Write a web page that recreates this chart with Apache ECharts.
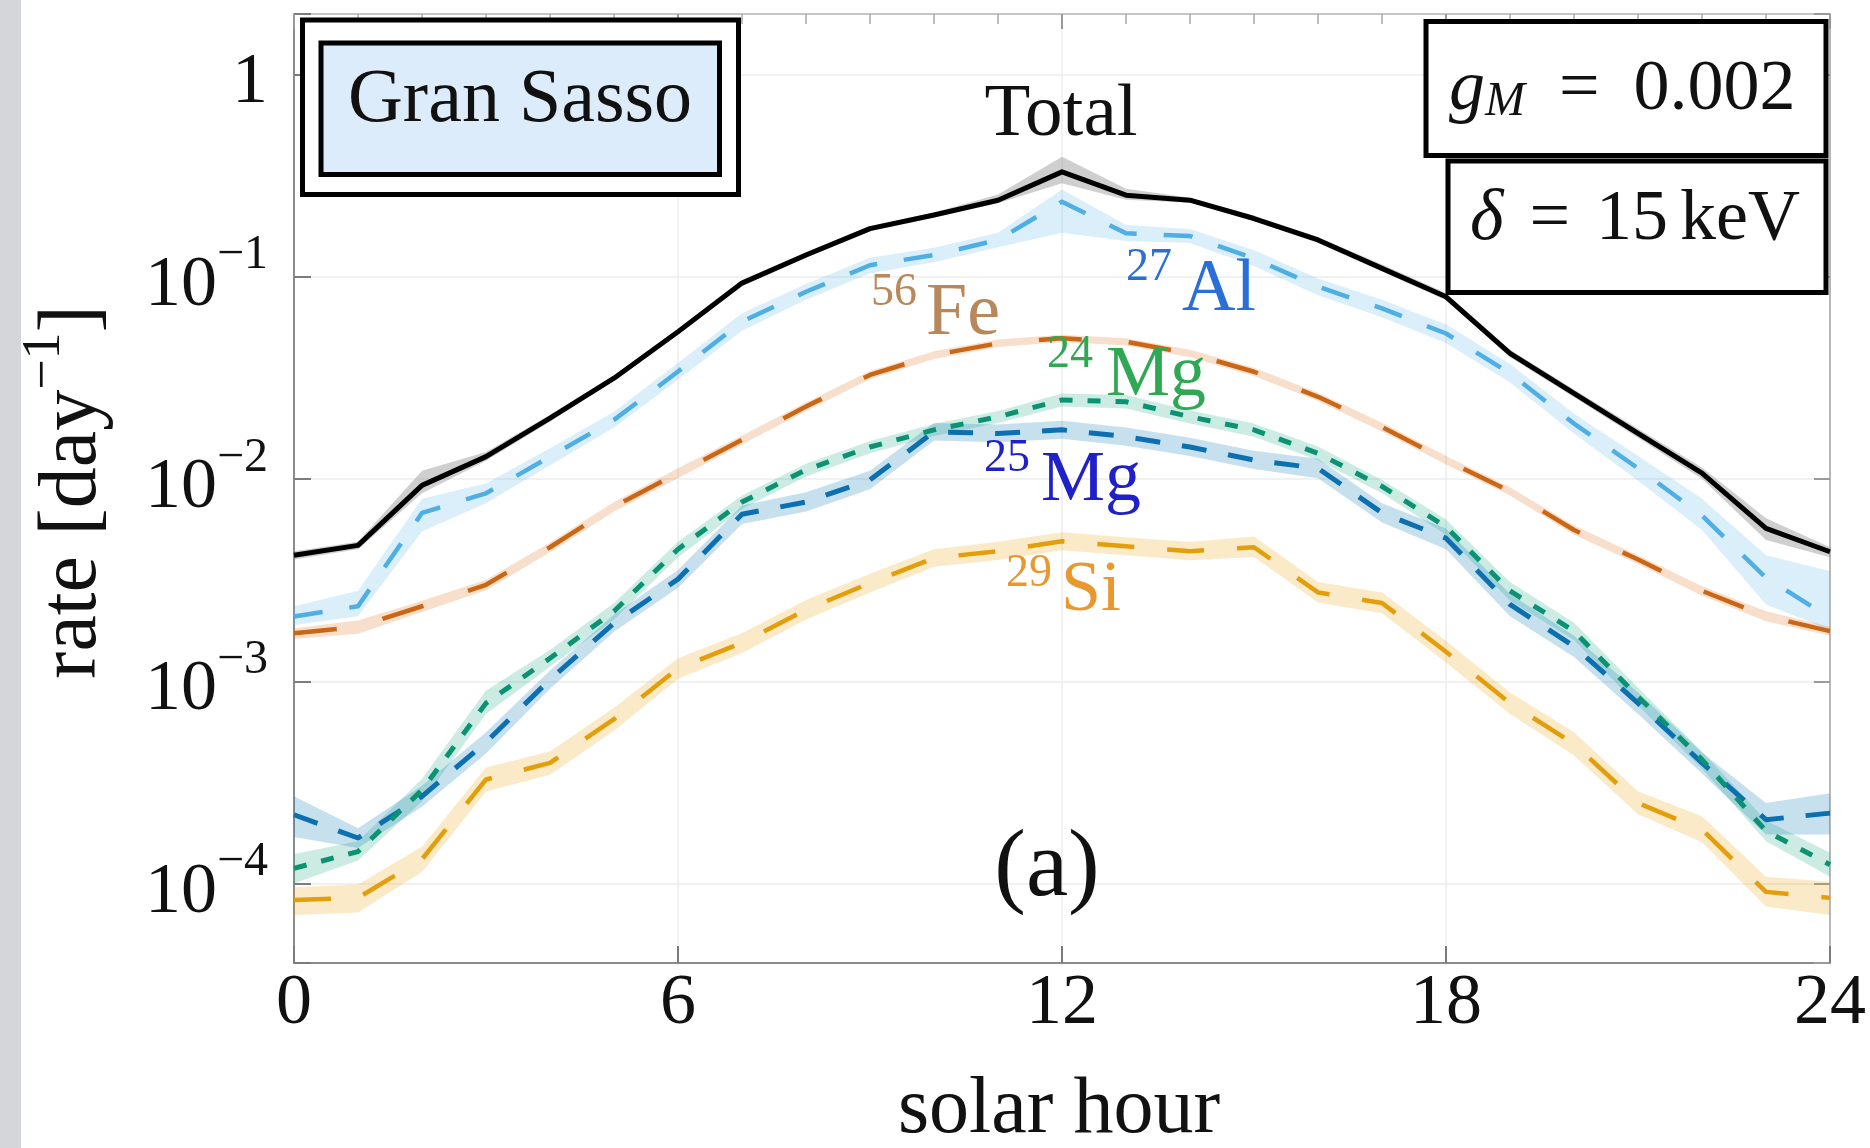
<!DOCTYPE html>
<html>
<head>
<meta charset="utf-8">
<script src="https://cdn.jsdelivr.net/npm/echarts@6/dist/echarts.min.js"></script>
<style>
  html, body { margin: 0; padding: 0; background: #ffffff; }
  #chart { width: 1870px; height: 1148px; }
</style>
</head>
<body>
<div id="chart"></div>
<script>
// Solar-hour axis
const hours = [0,1,2,3,4,5,6,7,8,9,10,11,12,13,14,15,16,17,18,19,20,21,22,23,24];
const hourTicks = [0, 6, 12, 18, 24];

// Rates [day^-1]: central curve and band edges for each target
const totalRate = [4.2e-3,4.7e-3,9.3e-3,1.29e-2,2.0e-2,3.15e-2,5.35e-2,9.3e-2,0.128,0.173,0.202,0.239,0.330,0.253,0.239,0.194,0.152,0.110,0.0796,0.0418,0.0265,0.0168,0.0107,0.0057,0.00437];
const totalLo   = [4.0e-3,4.5e-3,8.5e-3,1.23e-2,1.92e-2,3.05e-2,5.2e-2,9.0e-2,0.124,0.168,0.196,0.231,0.290,0.240,0.232,0.188,0.147,0.106,0.0765,0.040,0.0254,0.0160,0.0100,0.0050,0.0041];
const totalHi   = [4.4e-3,4.9e-3,1.1e-2,1.36e-2,2.08e-2,3.25e-2,5.5e-2,9.6e-2,0.132,0.178,0.208,0.255,0.392,0.272,0.246,0.200,0.157,0.115,0.083,0.0436,0.0277,0.0177,0.0114,0.0064,0.0046];

const al27Rate = [2.09e-3,2.35e-3,6.8e-3,8.5e-3,1.29e-2,1.96e-2,3.4e-2,0.060,0.0843,0.114,0.128,0.152,0.235,0.164,0.159,0.123,0.0893,0.0697,0.0524,0.0333,0.0188,0.0113,0.0066,0.00325,0.00206];
const al27Lo   = [1.9e-3,2.1e-3,5.5e-3,7.6e-3,1.17e-2,1.8e-2,3.1e-2,0.054,0.077,0.104,0.118,0.140,0.165,0.150,0.147,0.113,0.081,0.063,0.047,0.030,0.0168,0.0098,0.0056,0.0024,0.0018];
const al27Hi   = [2.35e-3,2.8e-3,8.0e-3,9.5e-3,1.42e-2,2.15e-2,3.75e-2,0.066,0.092,0.124,0.139,0.165,0.270,0.180,0.172,0.135,0.098,0.077,0.058,0.037,0.021,0.0130,0.0080,0.0042,0.0035];

const fe56Rate = [1.73e-3,1.86e-3,2.35e-3,3.0e-3,4.6e-3,7.3e-3,1.07e-2,0.0156,0.0228,0.0327,0.041,0.0469,0.0496,0.0477,0.0418,0.0339,0.0255,0.0181,0.0124,0.0087,0.0056,0.0040,0.0028,0.0021,0.00177];
const fe56Lo   = [1.62e-3,1.72e-3,2.2e-3,2.82e-3,4.35e-3,6.9e-3,1.01e-2,0.0148,0.0217,0.0312,0.0392,0.0449,0.0476,0.0457,0.0400,0.0323,0.0243,0.0172,0.0118,0.0083,0.0053,0.0038,0.00265,0.00198,0.00168];
const fe56Hi   = [1.83e-3,2.0e-3,2.5e-3,3.18e-3,4.85e-3,7.7e-3,1.13e-2,0.0164,0.0239,0.0342,0.0428,0.0489,0.0516,0.0497,0.0436,0.0355,0.0267,0.0190,0.0130,0.0091,0.0059,0.0042,0.00295,0.00222,0.00186];

const mg24Rate = [1.19e-4,1.44e-4,2.9e-4,7.8e-4,1.30e-3,2.22e-3,4.5e-3,7.7e-3,0.0111,0.0144,0.0175,0.0203,0.0246,0.0241,0.0203,0.0175,0.0134,0.0092,0.0058,0.0028,0.00177,8.4e-4,4.1e-4,1.82e-4,1.24e-4];
const mg24Lo   = [1.0e-4,1.3e-4,2.55e-4,6.9e-4,1.18e-3,2.02e-3,4.1e-3,7.1e-3,0.0103,0.0134,0.0163,0.0189,0.0228,0.0223,0.0188,0.0162,0.0124,0.0085,0.0053,0.0025,0.0016,7.6e-4,3.7e-4,1.62e-4,1.08e-4];
const mg24Hi   = [1.4e-4,1.62e-4,3.3e-4,9.0e-4,1.43e-3,2.44e-3,4.9e-3,8.3e-3,0.0119,0.0154,0.0187,0.0217,0.0265,0.0260,0.0218,0.0188,0.0145,0.0099,0.0063,0.0031,0.00195,9.3e-4,4.5e-4,2.05e-4,1.42e-4];

const mg25Rate = [2.19e-4,1.68e-4,2.7e-4,5.0e-4,1.02e-3,1.94e-3,3.2e-3,6.7e-3,7.7e-3,9.9e-3,0.0171,0.0168,0.0175,0.0162,0.0144,0.0124,0.0113,0.0068,0.0051,0.0024,0.00149,7.8e-4,3.95e-4,2.07e-4,2.23e-4];
const mg25Lo   = [1.7e-4,1.5e-4,2.4e-4,4.4e-4,9.2e-4,1.76e-3,2.9e-3,6.0e-3,6.9e-3,8.9e-3,0.0155,0.0152,0.0158,0.0146,0.0130,0.0112,0.0101,0.0061,0.0045,0.0021,0.00132,6.9e-4,3.5e-4,1.75e-4,1.75e-4];
const mg25Hi   = [2.7e-4,1.88e-4,3.05e-4,5.6e-4,1.13e-3,2.14e-3,3.55e-3,7.4e-3,8.6e-3,1.1e-2,0.0189,0.0186,0.0194,0.0180,0.0160,0.0138,0.0126,0.0076,0.0057,0.0027,0.00168,8.8e-4,4.45e-4,2.5e-4,2.8e-4];

const si29Rate = [8.3e-5,8.5e-5,1.32e-4,3.27e-4,3.95e-4,6.5e-4,1.16e-3,1.55e-3,2.26e-3,3.06e-3,4.07e-3,4.4e-3,4.92e-3,4.65e-3,4.4e-3,4.6e-3,2.75e-3,2.44e-3,1.4e-3,7.8e-4,4.9e-4,2.5e-4,1.85e-4,9.1e-5,8.5e-5];
const si29Lo   = [7.0e-5,7.2e-5,1.14e-4,2.85e-4,3.45e-4,5.7e-4,1.03e-3,1.38e-3,2.02e-3,2.75e-3,3.68e-3,3.98e-3,4.45e-3,4.2e-3,3.97e-3,4.12e-3,2.45e-3,2.17e-3,1.24e-3,6.9e-4,4.3e-4,2.2e-4,1.6e-4,7.7e-5,7.0e-5];
const si29Hi   = [9.6e-5,9.9e-5,1.52e-4,3.75e-4,4.5e-4,7.4e-4,1.3e-3,1.73e-3,2.52e-3,3.4e-3,4.5e-3,4.9e-3,5.45e-3,5.15e-3,4.88e-3,5.2e-3,3.1e-3,2.75e-3,1.58e-3,8.8e-4,5.6e-4,2.85e-4,2.15e-4,1.08e-4,1.02e-4];

// Vertical range of the log axis
const yMin = 4.05e-5;
const yMax = 1.99;

const SERIF = 'Liberation Serif';

// Shaded uncertainty band drawn as one polygon through the axis scales
function band(name, lo, hi, fill) {
  return {
    type: 'custom',
    name: name,
    z: 1,
    silent: true,
    data: hours.map((h, i) => [h, lo[i], hi[i]]),
    encode: { x: 0, y: [1, 2] },
    renderItem: function (params, api) {
      if (params.dataIndex !== 0) return null;
      const pts = [];
      for (let i = 0; i < hours.length; i++) pts.push(api.coord([hours[i], hi[i]]));
      for (let i = hours.length - 1; i >= 0; i--) pts.push(api.coord([hours[i], lo[i]]));
      return { type: 'polygon', shape: { points: pts }, style: { fill: fill }, silent: true };
    }
  };
}

function curve(name, values, color, dash, width) {
  return {
    type: 'line',
    name: name,
    z: 3,
    data: hours.map((h, i) => [h, values[i]]),
    showSymbol: false,
    symbol: 'none',
    silent: true,
    lineStyle: { color: color, width: width, type: dash, cap: 'butt', join: 'round' }
  };
}

function yLabel(v) {
  const e = Math.log10(v);
  const r = Math.round(e);
  if (Math.abs(e - r) > 1e-6) return '';
  if (r === 0) return '{b|1}';
  return '{b|10}{s|\u2212' + (-r) + '}';
}

// plain text annotation helper
function label(text, x, y, size, color, align) {
  return {
    type: 'text', z: 12, x: x, y: y,
    style: { text: text, fontFamily: SERIF, fontSize: size, fill: color, align: align || 'left', verticalAlign: 'middle' }
  };
}

const chart = echarts.init(document.getElementById('chart'), null, { renderer: 'canvas' });

const option = {
  animation: false,
  backgroundColor: '#ffffff',
  grid: { left: 294, top: 14, width: 1536, height: 949, containLabel: false, outerBoundsMode: 'none' },
  xAxis: [
    {
      type: 'value', min: 0, max: 24, interval: 6, position: 'bottom',
      axisLine: { show: true, onZero: false, lineStyle: { color: '#8c8c8c', width: 2 } },
      axisTick: { show: true, inside: true, length: 17, lineStyle: { color: '#7c7c7c', width: 2 } },
      axisLabel: {
        fontFamily: SERIF, fontSize: 72, color: '#111', margin: 5,
        formatter: v => (hourTicks.indexOf(v) >= 0 ? String(v) : '')
      },
      splitLine: { show: true, lineStyle: { color: '#ededed', width: 1.5 } }
    },
    {
      type: 'value', min: 0, max: 24, interval: 6, position: 'top',
      axisLine: { show: true, onZero: false, lineStyle: { color: '#c6c6c6', width: 2 } },
      axisTick: { show: true, inside: true, length: 15, lineStyle: { color: '#9a9a9a', width: 2 } },
      minorTick: { show: true, splitNumber: 6, length: 10, lineStyle: { color: '#a8a8a8', width: 1.5 } },
      axisLabel: { show: false },
      splitLine: { show: false }
    }
  ],
  yAxis: [
    {
      type: 'log', logBase: 10, min: yMin, max: yMax, position: 'left',
      axisLine: { show: true, onZero: false, lineStyle: { color: '#8c8c8c', width: 2 } },
      axisTick: { show: true, inside: true, length: 17, lineStyle: { color: '#7c7c7c', width: 2 } },
      axisLabel: {
        margin: 26, color: '#111', formatter: yLabel,
        rich: {
          b: { fontFamily: SERIF, fontSize: 72, lineHeight: 90, verticalAlign: 'bottom', color: '#111' },
          s: { fontFamily: SERIF, fontSize: 48, lineHeight: 48, verticalAlign: 'top', color: '#111' }
        }
      },
      splitLine: { show: true, lineStyle: { color: '#ededed', width: 1.5 } }
    },
    {
      type: 'log', logBase: 10, min: yMin, max: yMax, position: 'right',
      axisLine: { show: true, onZero: false, lineStyle: { color: '#b8b8b8', width: 2 } },
      axisTick: { show: true, inside: true, length: 16, lineStyle: { color: '#9a9a9a', width: 2 } },
      axisLabel: { show: false },
      splitLine: { show: false }
    }
  ],
  series: [
    band('Total band', totalLo, totalHi, 'rgba(140,140,140,0.42)'),
    band('27Al band', al27Lo, al27Hi, 'rgba(86,180,233,0.22)'),
    band('56Fe band', fe56Lo, fe56Hi, 'rgba(213,94,0,0.20)'),
    band('24Mg band', mg24Lo, mg24Hi, 'rgba(0,158,115,0.20)'),
    band('25Mg band', mg25Lo, mg25Hi, 'rgba(0,114,178,0.22)'),
    band('29Si band', si29Lo, si29Hi, 'rgba(230,159,0,0.22)'),
    curve('29Si', si29Rate, '#E39E0C', [37, 33], 4.5),
    curve('25Mg', mg25Rate, '#0B6FB0', [25, 22], 5),
    curve('24Mg', mg24Rate, '#0A9273', [13, 15], 5),
    curve('56Fe', fe56Rate, '#CB6614', [43, 47], 4.5),
    curve('27Al', al27Rate, '#4FAEE3', [29, 27], 4.5),
    curve('Total', totalRate, '#000000', 'solid', 5)
  ],
  graphic: [
    // grey strip on the page edge
    { type: 'rect', z: 0, shape: { x: 0, y: 0, width: 21, height: 1148 }, style: { fill: '#d4d6d9' } },

    // site box
    { type: 'rect', z: 10, shape: { x: 302.5, y: 20, width: 436, height: 174.5 }, style: { fill: '#ffffff', stroke: '#000', lineWidth: 5 } },
    { type: 'rect', z: 11, shape: { x: 321, y: 43, width: 398.5, height: 131.5 }, style: { fill: '#dcecfb', stroke: '#000', lineWidth: 5 } },
    label('Gran Sasso', 520, 101, 76, '#111', 'center'),

    // coupling box
    { type: 'rect', z: 10, shape: { x: 1426, y: 21.5, width: 400, height: 134 }, style: { fill: '#ffffff', stroke: '#000', lineWidth: 5 } },
    { type: 'text', z: 12, x: 1449, y: 90, style: {
        text: '{i|g}{m|M}{e|=}{r|0.002}', align: 'left', verticalAlign: 'middle',
        rich: {
          i: { fontFamily: SERIF, fontStyle: 'italic', fontSize: 72, lineHeight: 72, verticalAlign: 'top', fill: '#111' },
          m: { fontFamily: SERIF, fontStyle: 'italic', fontSize: 48, lineHeight: 48, verticalAlign: 'bottom', fill: '#111' },
          e: { fontFamily: SERIF, fontSize: 72, lineHeight: 72, verticalAlign: 'top', fill: '#111', padding: [0, 34, 0, 34] },
          r: { fontFamily: SERIF, fontSize: 72, lineHeight: 72, verticalAlign: 'top', fill: '#111' }
        } } },

    // mass splitting box
    { type: 'rect', z: 10, shape: { x: 1448, y: 161, width: 378, height: 131.5 }, style: { fill: '#ffffff', stroke: '#000', lineWidth: 5 } },
    { type: 'text', z: 12, x: 1470, y: 220, style: {
        text: '{i|\u03b4}{e|=}{r|15}{k|keV}', align: 'left', verticalAlign: 'middle',
        rich: {
          i: { fontFamily: SERIF, fontStyle: 'italic', fontSize: 72, lineHeight: 72, fill: '#111' },
          e: { fontFamily: SERIF, fontSize: 72, lineHeight: 72, fill: '#111', padding: [0, 26, 0, 26] },
          r: { fontFamily: SERIF, fontSize: 72, lineHeight: 72, fill: '#111' },
          k: { fontFamily: SERIF, fontSize: 72, lineHeight: 72, fill: '#111', padding: [0, 0, 0, 12] }
        } } },

    // curve labels
    label('Total', 1061, 115, 75, '#111', 'center'),
    label('56', 871, 293, 46, '#b8875a'),
    label('Fe', 926, 315, 74, '#b8875a'),
    label('27', 1126, 268, 46, '#2a6fd8'),
    label('Al', 1182, 291, 74, '#2a6fd8'),
    label('24', 1047, 355, 46, '#2fa853'),
    label('Mg', 1106, 376, 72, '#2fa853'),
    label('25', 984, 459, 46, '#2020c8'),
    label('Mg', 1041, 481, 72, '#2020c8'),
    label('29', 1006, 574, 46, '#e8982e'),
    label('Si', 1061, 591, 72, '#e8982e'),
    label('(a)', 1047, 870, 95, '#111', 'center'),

    // axis titles
    label('solar hour', 1059, 1111, 80, '#111', 'center'),
    { type: 'text', z: 12, x: 66, y: 492, rotation: Math.PI / 2, style: {
        text: '{a|rate [day}{s|\u22121}{a|]}', align: 'center', verticalAlign: 'middle',
        rich: {
          a: { fontFamily: SERIF, fontSize: 82, lineHeight: 96, verticalAlign: 'bottom', fill: '#111' },
          s: { fontFamily: SERIF, fontSize: 54, lineHeight: 54, verticalAlign: 'top', fill: '#111' }
        } } }
  ]
};

chart.setOption(option);
</script>
</body>
</html>
